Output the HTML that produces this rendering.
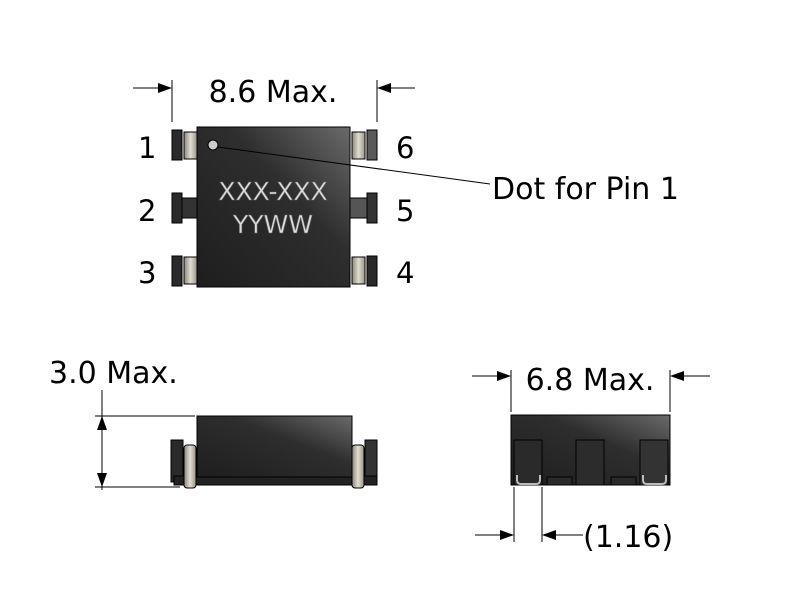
<!DOCTYPE html>
<html><head><meta charset="utf-8"><style>
body{margin:0;background:#fff;}
svg{display:block;font-family:"DejaVu Sans","Liberation Sans",sans-serif;}
</style></head><body>
<svg width="800" height="600" viewBox="0 0 800 600">
<defs>
<linearGradient id="bg" x1="0" y1="1" x2="1" y2="0">
<stop offset="0" stop-color="#1e1e1e"/><stop offset="0.6" stop-color="#2e2e2e"/><stop offset="1" stop-color="#6a6a6a"/></linearGradient>
<linearGradient id="coil" x1="0" y1="0" x2="1" y2="0">
<stop offset="0" stop-color="#8a8678"/><stop offset="0.5" stop-color="#e0ddd2"/><stop offset="1" stop-color="#9a9688"/></linearGradient>
</defs>
<!-- top view -->
<g stroke="#000" stroke-width="1">
<line x1="172" y1="80" x2="172" y2="122"/><line x1="377" y1="80" x2="377" y2="122"/>
<line x1="133" y1="88" x2="160" y2="88"/><line x1="389" y1="88" x2="415" y2="88"/>
</g>
<g fill="#000"><path d="M172,88l-14,-5v10z"/><path d="M377,88l14,-5v10z"/></g>
<text x="273" y="102" font-size="30" text-anchor="middle">8.6 Max.</text>
<g stroke="#000">
<rect x="172" y="130" width="10" height="30" fill="#2a2a2a"/><rect x="184" y="132" width="13" height="27" fill="url(#coil)"/>
<rect x="172" y="193" width="10" height="30" fill="#2a2a2a"/><rect x="182" y="198" width="15" height="20" fill="#333"/>
<rect x="172" y="256" width="10" height="30" fill="#2a2a2a"/><rect x="184" y="257" width="13" height="27" fill="url(#coil)"/>
<rect x="367" y="130" width="10" height="30" fill="#5a5a5a"/><rect x="352" y="132" width="13" height="27" fill="url(#coil)"/>
<rect x="367" y="193" width="10" height="30" fill="#333"/><rect x="350" y="198" width="17" height="20" fill="#555"/>
<rect x="367" y="256" width="10" height="30" fill="#2a2a2a"/><rect x="352" y="257" width="13" height="27" fill="url(#coil)"/>
<rect x="197" y="127" width="153" height="160" fill="url(#bg)"/>
</g>
<circle cx="213" cy="145" r="5" fill="#ccc" stroke="#000"/>
<line x1="218" y1="147" x2="490" y2="184" stroke="#000"/>
<g font-size="25" fill="#ddd" stroke="#666" stroke-width="0.6" text-anchor="middle">
<text x="273" y="200">XXX-XXX</text><text x="273" y="233">YYWW</text></g>
<g font-size="29"><text x="138" y="158">1</text><text x="138" y="221">2</text><text x="138" y="283">3</text>
<text x="396" y="158">6</text><text x="396" y="221">5</text><text x="396" y="283">4</text>
<text x="492" y="199" font-size="30">Dot for Pin 1</text></g>
<!-- side view -->
<text x="49" y="383" font-size="30">3.0 Max.</text>
<g stroke="#000"><line x1="95" y1="416" x2="195" y2="416"/><line x1="95" y1="487" x2="180" y2="487"/>
<line x1="102" y1="390" x2="102" y2="490"/>
<rect x="171" y="440" width="12" height="42" fill="#2a2a2a"/><rect x="365" y="440" width="12" height="42" fill="#333"/>
<rect x="174" y="476" width="203" height="9" fill="#222"/>
<rect x="197" y="416" width="155" height="61" fill="url(#bg)"/>
<rect x="184" y="445" width="12" height="43" rx="3" fill="url(#coil)"/><rect x="352" y="445" width="12" height="43" rx="3" fill="url(#coil)"/>
</g>
<g fill="#000"><path d="M102,416l-5,14h10z"/><path d="M102,487l-5,-14h10z"/></g>
<!-- end view -->
<g stroke="#000"><line x1="511" y1="370" x2="511" y2="412"/><line x1="670" y1="370" x2="670" y2="412"/>
<line x1="472" y1="376" x2="499" y2="376"/><line x1="682" y1="376" x2="710" y2="376"/>
<rect x="511" y="415" width="159" height="70" fill="url(#bg)"/>
<rect x="514" y="440" width="28" height="45" fill="#2a2a2a"/><rect x="576" y="440" width="28" height="45" fill="#2c2c2c"/><rect x="640" y="440" width="28" height="45" fill="#333"/>
<rect x="547" y="477" width="25" height="8" fill="#2a2a2a"/><rect x="611" y="477" width="25" height="8" fill="#2a2a2a"/>
<path d="M517,475v5q0,4 4,4h15q4,0 4,-4v-5" fill="none" stroke="#bbb" stroke-width="2"/>
<path d="M643,475v5q0,4 4,4h15q4,0 4,-4v-5" fill="none" stroke="#bbb" stroke-width="2"/>
<line x1="514" y1="487" x2="514" y2="542"/><line x1="542" y1="487" x2="542" y2="542"/>
<line x1="475" y1="535" x2="502" y2="535"/><line x1="554" y1="535" x2="583" y2="535"/>
</g>
<g fill="#000"><path d="M511,376l-14,-5v10z"/><path d="M670,376l14,-5v10z"/><path d="M514,535l-14,-5v10z"/><path d="M542,535l14,-5v10z"/></g>
<text x="583" y="547" font-size="30">(1.16)</text>
<text x="590" y="390" font-size="30" text-anchor="middle">6.8 Max.</text>
</svg>
</body></html>
